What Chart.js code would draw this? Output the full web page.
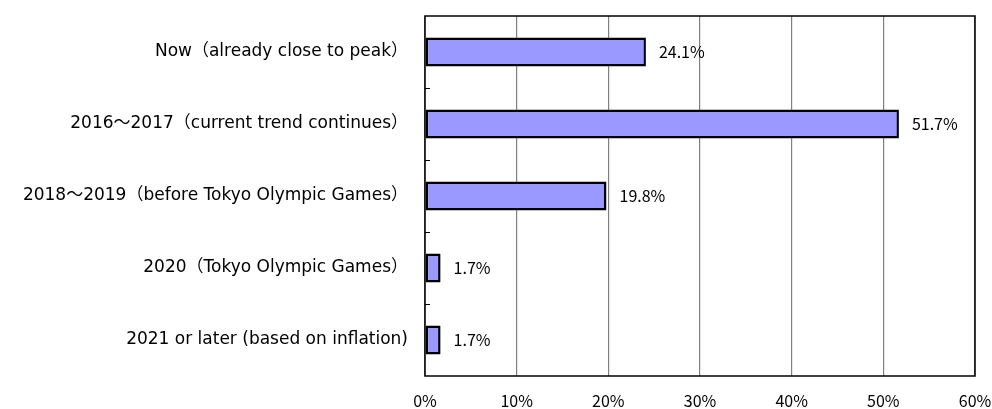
<!DOCTYPE html>
<html>
<head>
<meta charset="utf-8">
<script src="https://cdn.jsdelivr.net/npm/chart.js@4.4.1/dist/chart.umd.min.js"></script>
<style>
  html, body { margin: 0; padding: 0; background: #ffffff; }
  #wrap { width: 992px; height: 409px; position: relative; }
</style>
</head>
<body>
<div id="wrap"><canvas id="chart" width="992" height="409"></canvas></div>
<script>
// Expected timing of the market peak (share of respondents, %)
const categories = [
  'Now（already close to peak）',
  '2016～2017（current trend continues）',
  '2018～2019（before Tokyo Olympic Games）',
  '2020（Tokyo Olympic Games）',
  '2021 or later (based on inflation)'
];
const shares = [24.1, 51.7, 19.8, 1.7, 1.7];
const xTicks = [0, 10, 20, 30, 40, 50, 60];

const LABEL_FONT = '"DejaVu Sans", "Noto Sans CJK JP", sans-serif';
const NUM_FONT = '"Noto Sans CJK JP", sans-serif';

// Frame around the plot, inner category ticks and value labels
const frameAndLabels = {
  id: 'frameAndLabels',
  afterDatasetsDraw(chart) {
    const { ctx, chartArea: a, scales } = chart;
    ctx.save();
    ctx.strokeStyle = '#000';
    ctx.lineWidth = 1.5;
    ctx.strokeRect(a.left, a.top, a.right - a.left, a.bottom - a.top);
    ctx.lineWidth = 1;
    for (let i = 1; i < categories.length; i++) {
      const y = Math.round(scales.y.getPixelForValue(i - 0.5)) + 0.5;
      ctx.beginPath();
      ctx.moveTo(a.left, y);
      ctx.lineTo(a.left + 5, y);
      ctx.stroke();
    }
    const meta = chart.getDatasetMeta(0);
    ctx.fillStyle = '#000';
    ctx.font = '16px ' + NUM_FONT;
    ctx.textAlign = 'left';
    ctx.textBaseline = 'middle';
    meta.data.forEach((bar, i) => {
      ctx.fillText(shares[i].toFixed(1) + '%', bar.x + 13, bar.y);
    });
    ctx.restore();
  }
};

new Chart(document.getElementById('chart'), {
  type: 'bar',
  data: {
    labels: categories,
    datasets: [{
      data: shares,
      backgroundColor: '#9999ff',
      borderColor: '#000000',
      borderWidth: 2.5,
      borderSkipped: false,
      categoryPercentage: 0.8,
      barPercentage: 0.5
    }]
  },
  options: {
    indexAxis: 'y',
    responsive: false,
    animation: false,
    layout: { padding: { left: 0, right: 17, top: 16, bottom: 0 } },
    plugins: { legend: { display: false }, tooltip: { enabled: false } },
    scales: {
      x: {
        min: 0,
        max: 60,
        afterBuildTicks(scale) { scale.ticks = xTicks.map(v => ({ value: v })); },
        afterFit(scale) {
          scale.height = 33;
          scale.paddingLeft = 0;
          scale.paddingRight = 0;
        },
        grid: { color: '#808080', lineWidth: 1.2, drawTicks: false },
        border: { display: false },
        ticks: {
          padding: 15,
          color: '#000',
          font: { family: NUM_FONT, size: 16 },
          maxRotation: 0,
          callback: v => v + '%'
        }
      },
      y: {
        afterFit(scale) {
          scale.width = 425;
          scale.paddingTop = 0;
          scale.paddingBottom = 0;
        },
        grid: { display: false, drawTicks: false },
        border: { display: false },
        ticks: {
          padding: 17,
          color: '#000',
          font: { family: LABEL_FONT, size: 17 }
        }
      }
    }
  },
  plugins: [frameAndLabels]
});
</script>
</body>
</html>
